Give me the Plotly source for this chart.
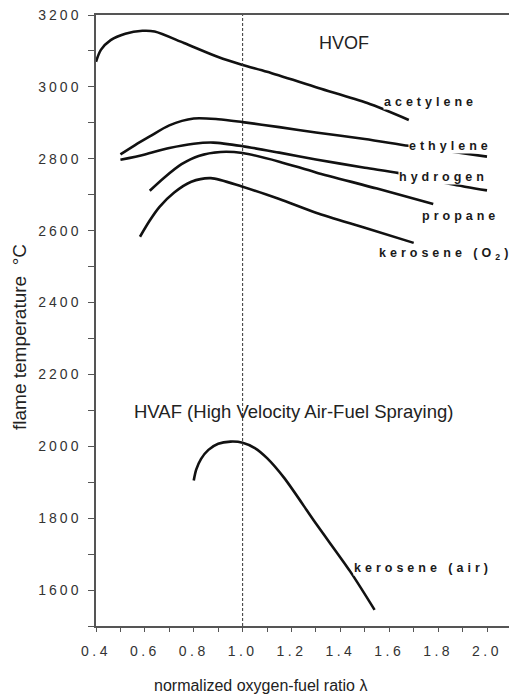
import plotly.graph_objects as go

# ---- data ----
acetylene_x = [0.40, 0.42, 0.46, 0.52, 0.59, 0.64, 0.76, 0.90, 1.00, 1.10, 1.31, 1.51, 1.68]
acetylene_y = [3070, 3103, 3130, 3148, 3156, 3154, 3122, 3083, 3061, 3042, 2997, 2955, 2908]

ethylene_x = [0.50, 0.56, 0.62, 0.70, 0.80, 0.90, 1.00, 1.15, 1.30, 1.50, 1.68, 1.85, 2.00]
ethylene_y = [2812, 2838, 2862, 2893, 2912, 2910, 2902, 2888, 2873, 2855, 2836, 2820, 2806]

hydrogen_x = [0.50, 0.60, 0.70, 0.80, 0.88, 1.00, 1.15, 1.30, 1.50, 1.64, 1.85, 2.00]
hydrogen_y = [2797, 2812, 2830, 2842, 2845, 2835, 2817, 2798, 2775, 2760, 2730, 2712]

propane_x = [0.62, 0.68, 0.75, 0.82, 0.91, 1.00, 1.15, 1.30, 1.55, 1.78]
propane_y = [2711, 2748, 2785, 2808, 2819, 2816, 2792, 2762, 2717, 2674]

kerosene_o2_x = [0.58, 0.62, 0.66, 0.72, 0.79, 0.87, 1.00, 1.15, 1.30, 1.50, 1.70]
kerosene_o2_y = [2583, 2628, 2666, 2706, 2736, 2746, 2722, 2688, 2650, 2608, 2566]

kerosene_air_x = [0.80, 0.81, 0.83, 0.86, 0.90, 0.95, 1.00, 1.05, 1.10, 1.17, 1.30, 1.44, 1.54]
kerosene_air_y = [1905, 1935, 1965, 1990, 2007, 2013, 2010, 1995, 1967, 1912, 1785, 1652, 1545]

x_tick_vals = [0.4, 0.6, 0.8, 1.0, 1.2, 1.4, 1.6, 1.8, 2.0]
x_tick_labels = ["0.4", "0.6", "0.8", "1.0", "1.2", "1.4", "1.6", "1.8", "2.0"]
y_tick_vals = [1600, 1800, 2000, 2200, 2400, 2600, 2800, 3000, 3200]
y_tick_labels = ["1600", "1800", "2000", "2200", "2400", "2600", "2800", "3000", "3200"]

stoich_x = 1.0

# curve labels: (text, x, y)
curve_labels = [
    ("acetylene", 1.575, 2958),
    ("ethylene", 1.677, 2836),
    ("hydrogen", 1.636, 2750),
    ("propane", 1.731, 2641),
    ("kerosene (O<sub>2</sub>)", 1.554, 2536),
    ("kerosene (air)", 1.451, 1660),
]

FONT = "Liberation Sans, Arial, sans-serif"

fig = go.Figure()
series = [
    (acetylene_x, acetylene_y),
    (ethylene_x, ethylene_y),
    (hydrogen_x, hydrogen_y),
    (propane_x, propane_y),
    (kerosene_o2_x, kerosene_o2_y),
    (kerosene_air_x, kerosene_air_y),
]
for xs, ys in series:
    fig.add_trace(go.Scatter(x=xs, y=ys, mode="lines",
                             line=dict(color="#111111", width=2.6, shape="spline", smoothing=0.8),
                             showlegend=False, hoverinfo="skip"))

# dashed vertical line at lambda = 1
fig.add_trace(go.Scatter(x=[stoich_x, stoich_x], y=[1500, 3200], mode="lines",
                         line=dict(color="#333333", width=1, dash="3px,2px"),
                         showlegend=False, hoverinfo="skip"))

def spaced(t, ls):
    return f'<span style="letter-spacing:{ls}px">{t}</span>'

W, H = 509, 694
L, R, T, B = 96, 0, 15, 68
pw, ph = W - L - R, H - T - B

annotations = []
for text, x, y in curve_labels:
    annotations.append(dict(x=x, y=y, xref="x", yref="y", text=spaced(text, 4),
                            showarrow=False, xanchor="left", yanchor="middle",
                            bgcolor="white", borderpad=0,
                            font=dict(family=FONT, size=12.5, color="#1a1a1a", weight="bold")))

annotations.append(dict(x=1.414, y=3122, xref="x", yref="y", text="HVOF", showarrow=False,
                        xanchor="center", yanchor="middle",
                        font=dict(family=FONT, size=18, color="#222222")))
annotations.append(dict(x=1.209, y=2096, xref="x", yref="y",
                        text="HVAF (High Velocity Air-Fuel Spraying)", showarrow=False,
                        xanchor="center", yanchor="middle",
                        font=dict(family=FONT, size=18.5, color="#222222")))
# axis titles (placed by pixel position, converted to paper coordinates)
annotations.append(dict(xref="paper", yref="paper", x=(260 - L) / pw, y=(H - 685 - B) / ph,
                        text="normalized oxygen-fuel ratio λ", showarrow=False,
                        xanchor="center", yanchor="middle",
                        font=dict(family=FONT, size=16, color="#222222")))
annotations.append(dict(xref="paper", yref="paper", x=(19 - L) / pw, y=(H - 337 - B) / ph,
                        text="flame temperature  °C", showarrow=False, textangle=-90,
                        xanchor="center", yanchor="middle",
                        font=dict(family=FONT, size=19, color="#222222")))

fig.update_layout(
    width=W, height=H,
    margin=dict(l=L, r=R, t=T, b=B),
    paper_bgcolor="white", plot_bgcolor="white",
    annotations=annotations,
    xaxis=dict(range=[0.4, 2.09], showgrid=False, zeroline=False,
               showline=True, linecolor="#555555", linewidth=1.5, mirror=True,
               ticks="outside", ticklen=4, tickwidth=1.2, tickcolor="#555555",
               tickvals=x_tick_vals, ticktext=[spaced(t, 3.5) for t in x_tick_labels],
               tickfont=dict(family=FONT, size=14, color="#333333"),
               minor=dict(dtick=0.1, ticks="outside", ticklen=4, tickcolor="#555555", tickwidth=1.2),
               ticklabelstandoff=7),
    yaxis=dict(range=[1500, 3200], showgrid=False, zeroline=False,
               showline=True, linecolor="#555555", linewidth=1.5,
               ticks="outside", ticklen=6, tickwidth=1.2, tickcolor="#555555",
               tickvals=y_tick_vals, ticktext=[spaced(t, 3) for t in y_tick_labels],
               tickfont=dict(family=FONT, size=14, color="#333333"),
               minor=dict(dtick=100, ticks="outside", ticklen=6, tickcolor="#555555", tickwidth=1.2),
               ticklabelstandoff=4),
)

fig.write_html("out.html", config={"displayModeBar": False},
               post_script="document.body.style.margin='0';document.body.style.overflow='hidden';")
